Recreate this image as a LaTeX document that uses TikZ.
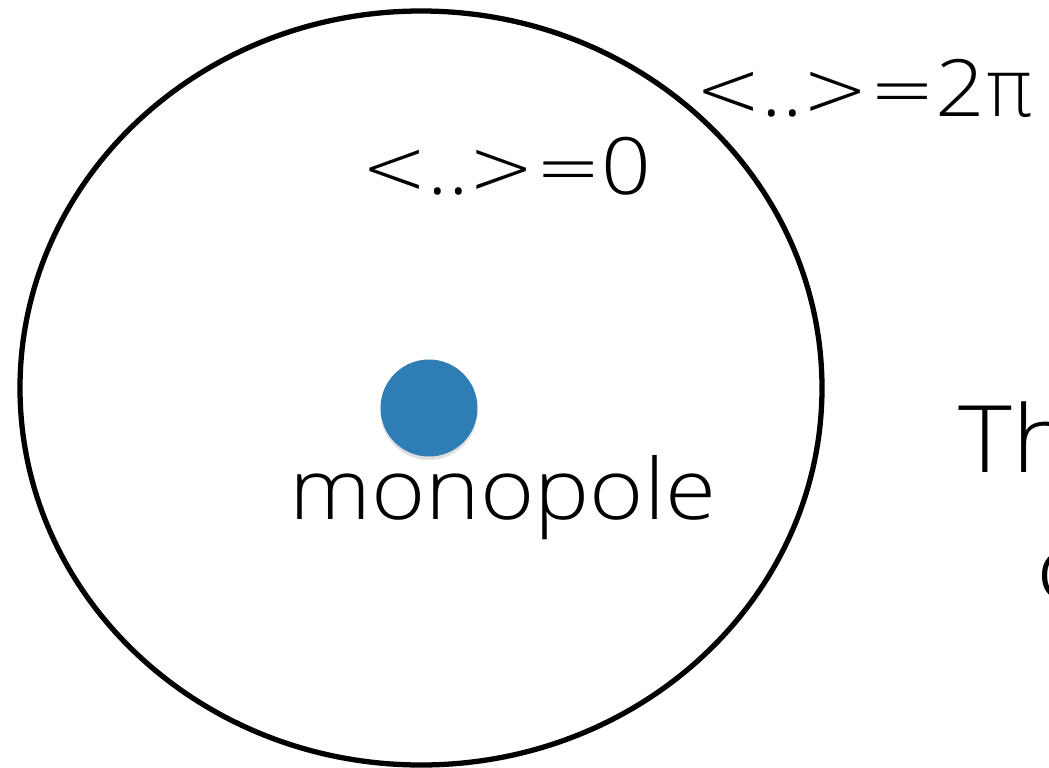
\documentclass[tikz,border=0pt]{standalone}
\usepackage{fontspec}
\setmainfont{Open Sans}[UprightFont=* Light, FakeStretch=1.1]
\newfontfamily\signfont{DejaVu Sans}[UprightFont=* ExtraLight]
\usetikzlibrary{shadows}

\definecolor{poleblue}{RGB}{46,125,181}

% wide relation signs
\newcommand{\sgn}[1]{{\signfont #1}}

\begin{document}
\begin{tikzpicture}[
    x=0.02cm, y=-0.02cm,
    % Style for the boundary of the region
    regionStyle/.style={
        draw=black,
        line width=3pt
    },
    % Style for the monopole dot
    poleNode/.style={
        circle,
        fill=poleblue,
        inner sep=0pt,
        minimum size=1.94cm,
        drop shadow={shadow xshift=0pt, shadow yshift=-2pt, opacity=0.25}
    },
    % Style for the big labels
    bigLabel/.style={
        font=\fontsize{45}{50}\selectfont,
        inner sep=0pt,
        anchor=base west
    }
]

    % --- CANVAS ---
    \useasboundingbox (0,0) rectangle (1049,768);
    \clip (0,0) rectangle (1049,768);

    % --- REGION ---
    \draw[regionStyle] (421,388) ellipse (401 and 377);

    % --- MONOPOLE ---
    \node[poleNode] (pole) at (429,408) {};
    \node[bigLabel, font=\fontsize{48}{54}\selectfont] (poleLabel) at (289,519) {monopole};

    % --- PHASE LABELS ---
    \node[bigLabel] (inside) at (361,194) {\sgn{<}..\sgn{>=}0};
    \node[bigLabel] (outside) at (695,116) {\sgn{<}..\sgn{>=}2\sgn{π}};

    % --- SIDE TEXT ---
    \node[bigLabel, font=\fontsize{53}{60}\selectfont] (sideA) at (958,472) {Th};
    \node[bigLabel, font=\fontsize{53}{60}\selectfont] (sideB) at (1036,600) {c};

\end{tikzpicture}
\end{document}
